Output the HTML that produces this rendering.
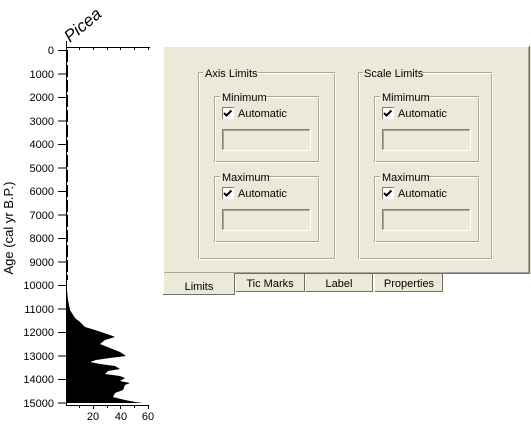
<!DOCTYPE html>
<html><head><style>
body{margin:0;background:#fff;width:531px;height:426px;overflow:hidden}
svg{display:block}
text{font-family:"Liberation Sans",sans-serif}
</style></head><body>
<svg width="531" height="426" viewBox="0 0 531 426" xmlns="http://www.w3.org/2000/svg">
<rect x="163" y="46" width="368" height="228" fill="#ECE9D8"/>
<line x1="163" y1="46.5" x2="530" y2="46.5" stroke="#fff"/>
<line x1="163.5" y1="46" x2="163.5" y2="273" stroke="#fff"/>
<line x1="529.5" y1="46" x2="529.5" y2="274" stroke="#716F64"/>
<line x1="528.5" y1="47" x2="528.5" y2="273" stroke="#ACA899"/>
<line x1="163" y1="273.5" x2="530" y2="273.5" stroke="#716F64"/>
<line x1="164" y1="272.5" x2="529" y2="272.5" stroke="#ACA899"/>
<g font-size="11" fill="#000">
<rect x="235" y="274" width="70" height="17" fill="#ECE9D8"/>
<path d="M235.5 291V274.5M304.5 274.5V291" stroke="#fff" fill="none"/>
<path d="M304.5 274V291.5H236" stroke="#716F64" fill="none"/>
<text x="270" y="287" text-anchor="middle">Tic Marks</text>
<rect x="305" y="274" width="68" height="17" fill="#ECE9D8"/>
<path d="M305.5 291V274.5" stroke="#fff"/>
<path d="M372.5 274V291.5H306" stroke="#716F64" fill="none"/>
<text x="339" y="287" text-anchor="middle">Label</text>
<rect x="374" y="274" width="69" height="17" fill="#ECE9D8"/>
<path d="M374.5 291V274.5" stroke="#fff"/>
<path d="M442.5 274V291.5H375" stroke="#716F64" fill="none"/>
<text x="409" y="287" text-anchor="middle">Properties</text>
<rect x="163" y="273" width="71" height="21" fill="#ECE9D8"/>
<path d="M163.5 294V273" stroke="#fff"/>
<path d="M234.5 273V294.5H163" stroke="#716F64" fill="none"/>
<text x="199" y="290" text-anchor="middle">Limits</text>
</g>
<g fill="none">
<rect x="198.5" y="72.5" width="136" height="186" stroke="#ACA899"/><rect x="199.5" y="73.5" width="136" height="186" stroke="#fff"/>
<rect x="214.5" y="96.5" width="104" height="65" stroke="#ACA899"/><rect x="215.5" y="97.5" width="104" height="65" stroke="#fff"/>
<rect x="214.5" y="176.5" width="104" height="65" stroke="#ACA899"/><rect x="215.5" y="177.5" width="104" height="65" stroke="#fff"/>
<rect x="358.5" y="72.5" width="133" height="186" stroke="#ACA899"/><rect x="359.5" y="73.5" width="133" height="186" stroke="#fff"/>
<rect x="374.5" y="96.5" width="104" height="65" stroke="#ACA899"/><rect x="375.5" y="97.5" width="104" height="65" stroke="#fff"/>
<rect x="374.5" y="176.5" width="104" height="65" stroke="#ACA899"/><rect x="375.5" y="177.5" width="104" height="65" stroke="#fff"/>
</g>
<g font-size="11" fill="#000">
<rect x="203" y="67" width="55" height="11" fill="#ECE9D8"/><text x="205" y="77">Axis Limits</text>
<rect x="363" y="67" width="60" height="11" fill="#ECE9D8"/><text x="364" y="77">Scale Limits</text>
<rect x="220" y="91" width="45" height="11" fill="#ECE9D8"/><text x="222" y="101">Minimum</text>
<rect x="220" y="171" width="47" height="11" fill="#ECE9D8"/><text x="222" y="181">Maximum</text>
<rect x="380" y="91" width="45" height="11" fill="#ECE9D8"/><text x="382" y="101">Mimimum</text>
<rect x="380" y="171" width="47" height="11" fill="#ECE9D8"/><text x="382" y="181">Maximum</text>
</g>
<g id="cb">
<rect x="222" y="107" width="12" height="12" fill="#fff"/>
<path d="M222.5 119V107.5H234" stroke="#808080" fill="none"/>
<path d="M224 113l2.5 2.5 5-5" stroke="#000" stroke-width="2" fill="none"/>
<text x="238" y="117" font-size="11">Automatic</text>
<rect x="222" y="129" width="88" height="21" fill="#ECE9D8"/>
<path d="M222.5 150V129.5H310" stroke="#808080" fill="none"/>
<path d="M310.5 129V150.5H222" stroke="#fff" fill="none"/>
<path d="M223.5 149V130.5H309" stroke="#404040" fill="none" opacity="0.4"/>
</g>
<use href="#cb" transform="translate(0,80)"/>
<use href="#cb" transform="translate(160,0)"/>
<use href="#cb" transform="translate(160,80)"/>
<g stroke="#000" fill="none">
<line x1="66.5" y1="41" x2="66.5" y2="406"/>
<line x1="66" y1="47.5" x2="150" y2="47.5"/>
<line x1="66" y1="405.5" x2="149" y2="405.5"/>
</g>
<g stroke="#000">
<path d="M58 50.5h8M58 74h8M58 97.5h8M58 121h8M58 144.5h8M58 168h8M58 191.5h8M58 215h8M58 238.5h8M58 262h8M58 285.5h8M58 309h8M58 332.5h8M58 356h8M58 379.5h8M58 403h8"/>
<path d="M79.5 47v3M93.5 47v3M107.5 47v3M120.5 47v3M134.5 47v3M148.5 47v3M79.5 405v3M93.5 405v4M107.5 405v3M120.5 405v4M134.5 405v3M148.5 405v4"/>
</g>
<line x1="67.5" y1="50" x2="67.5" y2="280" stroke="#000" stroke-width="1" stroke-dasharray="12 3"/>
<polygon fill="#000" points="67,280 67,290 68,300 70,310 75,318 80,322 85,327 95,330 110,335 115,337 105,340 100,344 110,348 120,352 126,356 110,358 96,360 90,362 100,364 115,366 120,369 108,371 105,374 120,376 125,378 120,381 130,383 125,385 123,390 115,393 113,397 125,400 135,402 143,403 67,403"/>
<g font-size="11" text-anchor="end">
<text x="54" y="54">0</text><text x="54" y="78">1000</text><text x="54" y="101">2000</text><text x="54" y="125">3000</text><text x="54" y="148">4000</text><text x="54" y="172">5000</text><text x="54" y="195">6000</text><text x="54" y="219">7000</text><text x="54" y="242">8000</text><text x="54" y="266">9000</text><text x="54" y="289">10000</text><text x="54" y="313">11000</text><text x="54" y="336">12000</text><text x="54" y="360">13000</text><text x="54" y="383">14000</text><text x="54" y="407">15000</text>
</g>
<g font-size="11" text-anchor="middle">
<text x="93" y="420">20</text><text x="121" y="420">40</text><text x="148" y="420">60</text>
</g>
<text transform="translate(13,228) rotate(-90)" font-size="13" text-anchor="middle">Age (cal yr B.P.)</text>
<text transform="translate(70,43) rotate(-40)" font-size="17" font-style="italic">Picea</text>
</svg>
</body></html>
